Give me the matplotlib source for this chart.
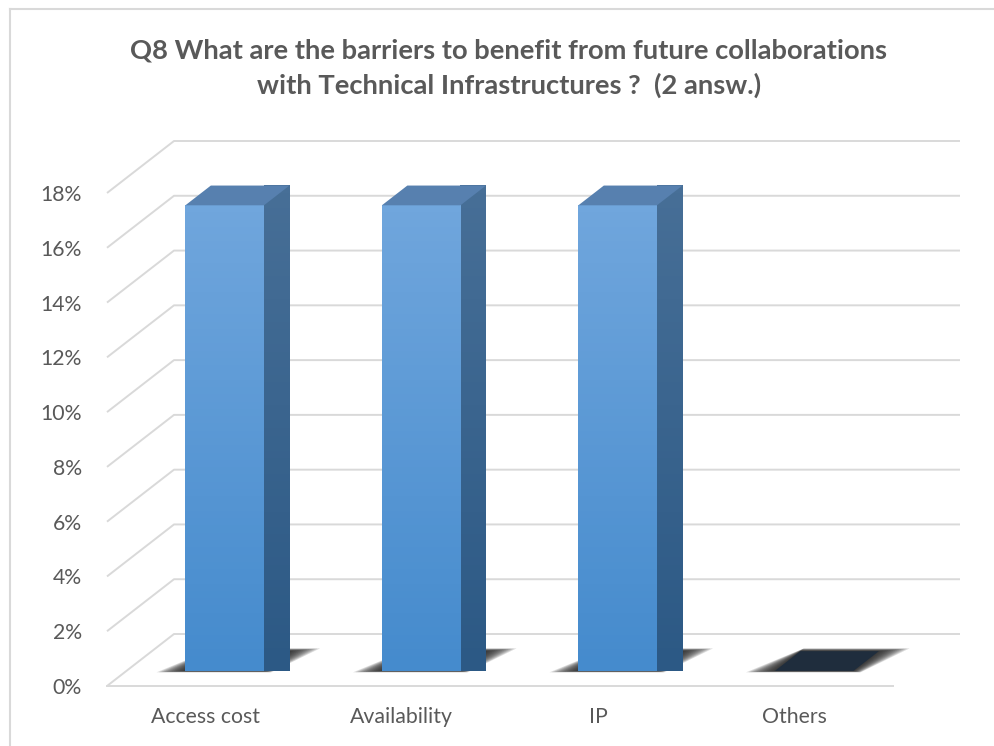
import numpy as np
import matplotlib
matplotlib.use("Agg")
import matplotlib.pyplot as plt
from matplotlib.patches import Polygon
from matplotlib.lines import Line2D

plt.rcParams['font.family'] = ['Lato', 'DejaVu Sans']

# data
categories = ["Access cost", "Availability", "IP", "Others"]
values = [0.17, 0.17, 0.17, 0.0]
ticks = [0.00, 0.02, 0.04, 0.06, 0.08, 0.10, 0.12, 0.14, 0.16, 0.18]
tick_labels = ["0%", "2%", "4%", "6%", "8%", "10%", "12%", "14%", "16%", "18%"]
title = ("Q8 What are the barriers to benefit from future collaborations\n"
         "with Technical Infrastructures ?  (2 answ.)")

W, H = 995, 746
fig = plt.figure(figsize=(W / 100, H / 100), dpi=100)

# front plane of the 3D box (pixels)
x0, x1 = 107, 893
y0, y1 = 686, 193
ax = fig.add_axes([x0 / W, (H - y0) / H, (x1 - x0) / W, (y0 - y1) / H])
ax.set_xlim(-0.5, 3.5)
ax.set_ylim(0, 0.18)
for s in ax.spines.values():
    s.set_visible(False)

# depth offset (oblique projection): full depth = 67px right, 52px up
DX = 67 / ((x1 - x0) / 4)
DY = 52 / (y0 - y1) * 0.18


def proj(x, v, d):
    return (x + d * DX, v + d * DY)


grid_c = "#d9d9d9"
for v in ticks:
    pts = [proj(-0.5, v, 0), proj(-0.5, v, 1), proj(3.5, v, 1)]
    ax.plot([p[0] for p in pts], [p[1] for p in pts], color=grid_c, lw=1.4,
            zorder=1, clip_on=False, solid_capstyle='butt')
ax.plot([-0.5, 3.5], [0, 0], color=grid_c, lw=1.4, zorder=1, clip_on=False)

bw = 0.2
d0, d1 = 0.29, 0.67


def gradient_poly(poly, c_top, c_bot, z):
    xs = [p[0] for p in poly]
    ys = [p[1] for p in poly]
    c_top = np.array(matplotlib.colors.to_rgb(c_top))
    c_bot = np.array(matplotlib.colors.to_rgb(c_bot))
    t = np.linspace(0, 1, 64)[:, None]
    img = (c_bot * (1 - t) + c_top * t)[:, None, :]
    im = ax.imshow(img, extent=[min(xs), max(xs), min(ys), max(ys)],
                   origin='lower', aspect='auto', zorder=z, clip_on=False)
    patch = Polygon(poly, closed=True, transform=ax.transData,
                    facecolor='none', edgecolor='none')
    ax.add_patch(patch)
    im.set_clip_path(patch)


for i, v in enumerate(values):
    xl, xr = i - bw, i + bw
    # soft shadow on the floor
    for k in range(12):
        e = 0.01 + k * 0.013
        f = e / DX
        sh = [proj(xl - e * 0.9, 0, d0 - 0.06 * f), proj(xr + e * 0.3, 0, d0 - 0.06 * f),
              proj(xr + e * 0.9, 0, d1 + 0.12 * f), proj(xl, 0, d1 + 0.12 * f)]
        ax.add_patch(Polygon(sh, closed=True, facecolor="#1e1e1e",
                             edgecolor='none', alpha=0.15, zorder=2,
                             clip_on=False))
    if v <= 0:
        top = [proj(xl, 0, d0), proj(xr, 0, d0), proj(xr, 0, d1), proj(xl, 0, d1)]
        ax.add_patch(Polygon(top, closed=True, facecolor="#1f2d3d",
                             edgecolor='none', zorder=4, clip_on=False))
        continue
    front = [proj(xl, 0, d0), proj(xr, 0, d0), proj(xr, v, d0), proj(xl, v, d0)]
    side = [proj(xr, 0, d0), proj(xr, 0, d1), proj(xr, v, d1), proj(xr, v, d0)]
    top = [proj(xl, v, d0), proj(xr, v, d0), proj(xr, v, d1), proj(xl, v, d1)]
    gradient_poly(side, "#476f97", "#2c5985", 3)
    gradient_poly(front, "#70a6dd", "#458bcd", 4)
    ax.add_patch(Polygon(top, closed=True, facecolor="#5780af",
                         edgecolor='none', zorder=4, clip_on=False))

ax.set_xlim(-0.5, 3.5)
ax.set_ylim(0, 0.18)
ax.set_yticks(ticks)
ax.set_yticklabels(tick_labels)
ax.set_xticks(range(len(categories)))
ax.set_xticklabels(categories)
ax.tick_params(axis='y', length=0, pad=18, labelsize=15.3, labelcolor="#595959")
ax.tick_params(axis='x', length=0, pad=15, labelsize=15.3, labelcolor="#595959")

fig.text(509 / W, (H - 68) / H, title, ha='center', va='center', fontsize=19.7,
         fontweight='bold', color="#595959", linespacing=1.5)

# chart border
fig.add_artist(Line2D([10 / W, 10 / W], [0, (H - 9) / H], color=grid_c, lw=1.5))
fig.add_artist(Line2D([10 / W, 1], [(H - 9) / H, (H - 9) / H], color=grid_c, lw=1.5))

fig.savefig("out.png", dpi=100)
